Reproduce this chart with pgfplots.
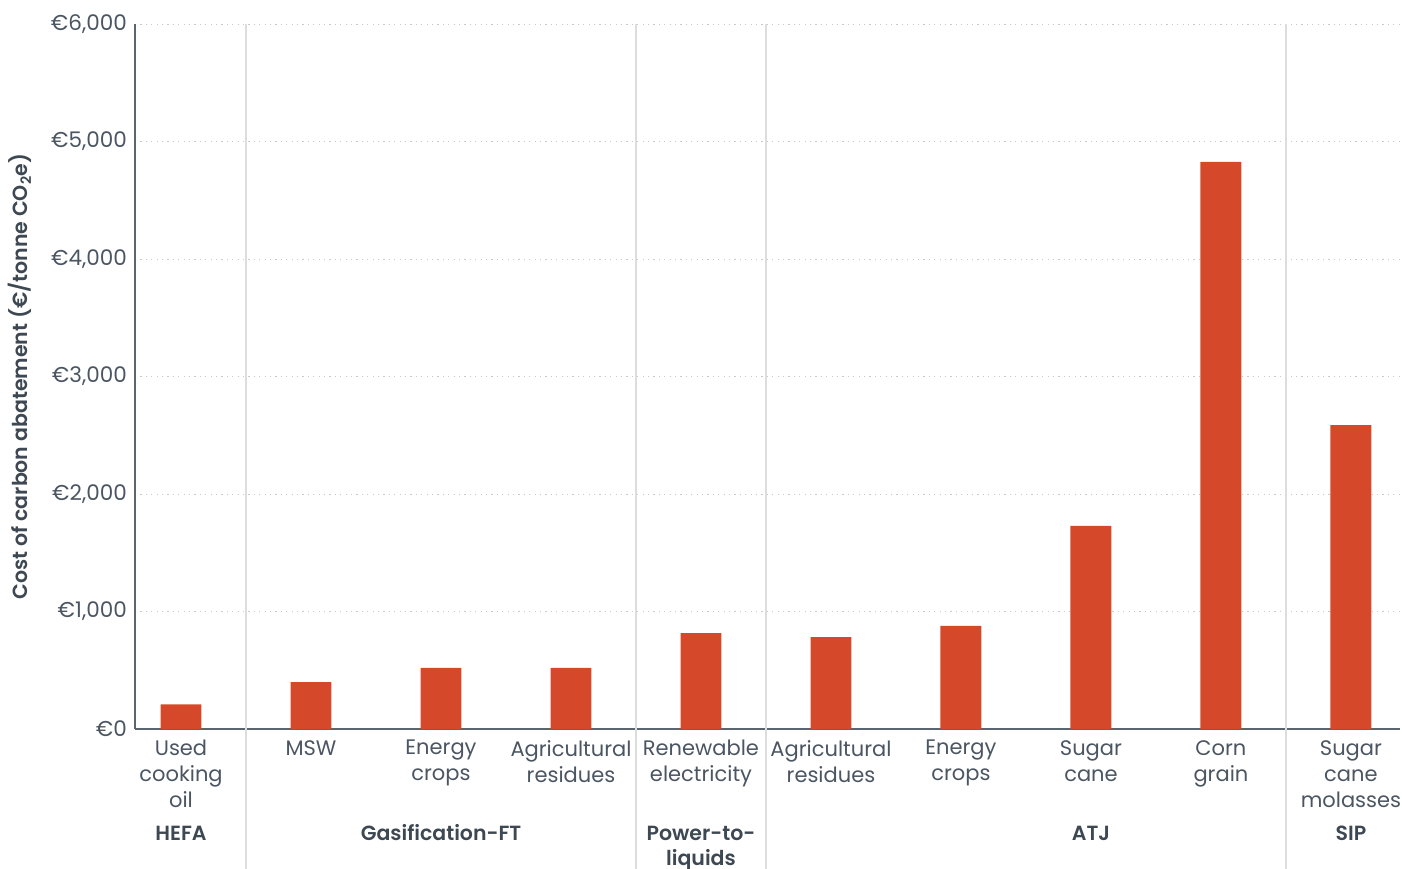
\documentclass[border=0pt]{standalone}
\usepackage{pgfplots}
\pgfplotsset{compat=1.18}
\usepackage{fontspec}
\setmainfont{Poppins}
\newfontfamily\medfont{Poppins SemiBold}
\definecolor{barc}{HTML}{D5492A}
\definecolor{txt}{HTML}{4B5662}
\definecolor{txtd}{HTML}{3D4852}
\definecolor{axc}{HTML}{5A6570}
\definecolor{sep}{HTML}{DDDDDD}
\definecolor{gridc}{HTML}{C8C8C8}
\begin{document}
\begin{tikzpicture}
\useasboundingbox (0,0) rectangle (1402pt,868pt);
\begin{axis}[
  at={(135pt,139pt)}, anchor=south west,
  scale only axis, width=1265pt, height=705pt,
  xmin=-0.354, xmax=9.377, ymin=0, ymax=6000,
  axis lines*=left,
  axis line style={color=axc, line width=1.5pt},
  major tick length=0pt,
  ytick={0,1000,2000,3000,4000,5000,6000},
  yticklabels={{€0},{€1,000},{€2,000},{€3,000},{€4,000},{€5,000},{€6,000}},
  yticklabel style={font=\fontsize{21.5}{24}\selectfont, color=txt, inner sep=0pt, anchor=east, xshift=-8pt},
  xtick={0,1,2,3,4,5,6,7,8,9},
  xticklabels={{Used\\cooking\\oil},{MSW},{Energy\\crops},{Agricultural\\residues},{Renewable\\electricity},{Agricultural\\residues},{Energy\\crops},{Sugar\\cane},{Corn\\grain},{Sugar\\cane\\molasses}},
  xticklabel style={font=\fontsize{21}{26}\selectfont, color=txt, align=center, inner sep=0pt, anchor=north, yshift=-11pt},
  ymajorgrids,
  grid style={color=gridc, line width=1pt, dash pattern=on 1.2pt off 4.2pt},
  clip=false,
]
\addplot[ybar, bar width=0.315, fill=barc, draw=none] coordinates {
(0,210) (1,400) (2,520) (3,520) (4,815) (5,783) (6,877) (7,1728) (8,4826) (9,2587)};
\draw[color=sep, line width=1.3pt] (axis cs:0.5,6000) -- ([yshift=-145pt]axis cs:0.5,0);
\draw[color=sep, line width=1.3pt] (axis cs:3.5,6000) -- ([yshift=-145pt]axis cs:3.5,0);
\draw[color=sep, line width=1.3pt] (axis cs:4.5,6000) -- ([yshift=-145pt]axis cs:4.5,0);
\draw[color=sep, line width=1.3pt] (axis cs:8.5,6000) -- ([yshift=-145pt]axis cs:8.5,0);
\node[font=\fontsize{20.5}{25}\medfont, color=txtd, anchor=base] at ([yshift=-111pt]axis cs:0,0) {HEFA};
\node[font=\fontsize{20.5}{25}\medfont, color=txtd, anchor=base] at ([yshift=-111pt]axis cs:2,0) {Gasification-FT};
\node[font=\fontsize{20.5}{25}\medfont, color=txtd, anchor=base] at ([yshift=-111pt]axis cs:4,0) {Power-to-};
\node[font=\fontsize{20.5}{25}\medfont, color=txtd, anchor=base] at ([yshift=-136pt]axis cs:4,0) {liquids};
\node[font=\fontsize{20.5}{25}\medfont, color=txtd, anchor=base] at ([yshift=-111pt]axis cs:7,0) {ATJ};
\node[font=\fontsize{20.5}{25}\medfont, color=txtd, anchor=base] at ([yshift=-111pt]axis cs:9,0) {SIP};
\node[font=\fontsize{20.5}{22}\medfont, color=txtd, rotate=90, anchor=center] at ([xshift=-115pt]rel axis cs:0,0.5) {Cost of carbon abatement (€/tonne CO\textsubscript{2}e)};
\end{axis}
\end{tikzpicture}
\end{document}
